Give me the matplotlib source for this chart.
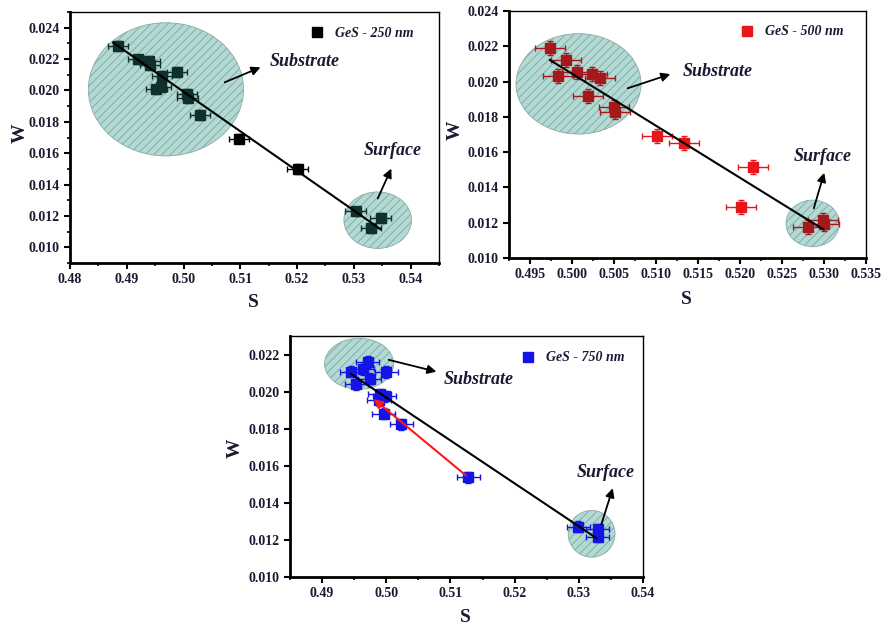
import matplotlib.pyplot as plt
import numpy as np
from matplotlib.lines import Line2D
from matplotlib.patches import Ellipse
from matplotlib.ticker import MultipleLocator

plt.rcParams["font.family"] = ["Liberation Serif", "DejaVu Serif"]
plt.rcParams["hatch.linewidth"] = 0.7

# GeS - 250 nm
s_250 = [0.4885, 0.4920, 0.4940, 0.4941, 0.4988, 0.4962, 0.4952, 0.4960,
         0.5006, 0.5007, 0.5029, 0.5098, 0.5201, 0.5303, 0.5347, 0.5330]
w_250 = [0.02283, 0.02198, 0.02187, 0.02160, 0.02117, 0.02092, 0.02007, 0.02024,
         0.01976, 0.01950, 0.01844, 0.01693, 0.01498, 0.01229, 0.01188, 0.01120]
line_250 = ([0.4876, 0.5347], [0.02305, 0.01116])

# GeS - 500 nm
s_500 = [0.49738, 0.49929, 0.49837, 0.50056, 0.50234, 0.50333, 0.50194, 0.50500,
         0.50512, 0.51016, 0.51333, 0.52159, 0.52008, 0.52813, 0.52992, 0.53004]
w_500 = [0.02189, 0.02122, 0.02032, 0.02056, 0.02043, 0.02019, 0.01918, 0.01854,
         0.01829, 0.01691, 0.01653, 0.01518, 0.01291, 0.01178, 0.01215, 0.01193]
line_500 = ([0.49738, 0.52992], [0.02122, 0.01162])

# GeS - 750 nm
s_750 = [0.49455, 0.49533, 0.49714, 0.49636, 0.49741, 0.50001, 0.49897, 0.49975,
         0.49886, 0.49959, 0.50235, 0.51275, 0.52991, 0.53293, 0.53293]
w_750 = [0.02108, 0.02040, 0.02160, 0.02121, 0.02070, 0.02106, 0.01985, 0.01976,
         0.01955, 0.01881, 0.01823, 0.01538, 0.01272, 0.01258, 0.01218]
line_750 = ([0.49455, 0.53278], [0.02094, 0.01209])
red_arrow_750 = ((0.51275, 0.01538), (0.49772, 0.01969))

TICK_COLOR = "#1a1a33"


def inside_any(s, w, ellipses):
    s = np.asarray(s)
    w = np.asarray(w)
    mask = np.zeros(len(s), dtype=bool)
    for (cx, cy, ew, eh) in ellipses:
        mask |= ((s - cx) / (ew / 2)) ** 2 + ((w - cy) / (eh / 2)) ** 2 <= 1.05
    return mask


def draw_panel(ax, s, w, line, color, dark, label, serr, werr, xlim, ylim, xmaj,
               ymaj, ellipses, sub_arrow, sub_text, surf_arrow, surf_text, leg_pos,
               yminor=True):
    s = np.asarray(s)
    w = np.asarray(w)
    inside = inside_any(s, w, ellipses) if dark else np.zeros(len(s), dtype=bool)
    ax.errorbar(s[~inside], w[~inside], xerr=serr, yerr=werr, fmt="s", color=color,
                ms=7, elinewidth=1.0, capsize=2.5, capthick=1.0, zorder=3)
    if inside.any():
        ax.errorbar(s[inside], w[inside], xerr=serr, yerr=werr, fmt="s", color=dark,
                    ms=7, elinewidth=1.0, capsize=2.5, capthick=1.0, zorder=3)
    ax.plot(line[0], line[1], color="black", lw=1.5, zorder=4)
    for (cx, cy, ew, eh) in ellipses:
        e = Ellipse((cx, cy), ew, eh, facecolor="#b2dad5", edgecolor="#8aa9a5",
                    hatch="////", lw=0.6, zorder=1)
        ax.add_patch(e)
    ax.annotate("", xy=sub_arrow[1], xytext=sub_arrow[0],
                arrowprops=dict(arrowstyle="-|>", color="black", lw=1.3,
                                mutation_scale=13), zorder=6)
    ax.annotate("", xy=surf_arrow[1], xytext=surf_arrow[0],
                arrowprops=dict(arrowstyle="-|>", color="black", lw=1.3,
                                mutation_scale=13), zorder=6)
    ax.text(sub_text[0], sub_text[1], "Substrate", fontsize=13, fontweight="bold",
            style="italic", color=TICK_COLOR, ha="left", va="center", zorder=7)
    ax.text(surf_text[0], surf_text[1], "Surface", fontsize=13, fontweight="bold",
            style="italic", color=TICK_COLOR, ha="left", va="center", zorder=7)

    handle = Line2D([], [], ls="none", marker="s", ms=7, color=color)
    ax.legend([handle], [label], loc="center left", bbox_to_anchor=leg_pos,
              frameon=False, handlelength=0.8, handletextpad=0.9, borderpad=0,
              borderaxespad=0, prop=dict(family="Liberation Serif", weight="bold",
                                         style="italic", size=10),
              labelcolor=TICK_COLOR)

    ax.set_xlim(*xlim)
    ax.set_ylim(*ylim)
    ax.xaxis.set_major_locator(MultipleLocator(xmaj))
    ax.xaxis.set_minor_locator(MultipleLocator(xmaj / 2))
    ax.yaxis.set_major_locator(MultipleLocator(ymaj))
    if yminor:
        ax.yaxis.set_minor_locator(MultipleLocator(ymaj / 2))
    else:
        ax.yaxis.set_minor_locator(plt.NullLocator())
    ax.tick_params(which="major", direction="out", length=4, width=1.5,
                   labelsize=10, labelcolor=TICK_COLOR)
    ax.tick_params(which="minor", direction="out", length=2.5, width=1.2)
    ax.spines["left"].set_linewidth(2)
    ax.spines["bottom"].set_linewidth(2)
    ax.spines["top"].set_linewidth(1)
    ax.spines["right"].set_linewidth(1)


def set_ticks(ax, xt, xfmt, yt):
    ax.set_xticks(xt)
    ax.set_xticklabels([xfmt.format(v) for v in xt], fontweight="bold")
    ax.set_yticks(yt)
    ax.set_yticklabels(["{:.3f}".format(v) for v in yt], fontweight="bold")


def main():
    fig = plt.figure(figsize=(8.88, 6.28), dpi=100)

    ax1 = fig.add_axes([70 / 888, 1 - 263 / 628, 369 / 888, 251 / 628])
    draw_panel(ax1, s_250, w_250, line_250, "black", "#10302b", "GeS - 250 nm",
               0.0018, 0.0003, (0.48, 0.545), (0.009, 0.025), 0.01, 0.002,
               [(0.4969, 0.02007, 0.02733, 0.00849), (0.5342, 0.01173, 0.0119, 0.0036)],
               ((0.5068, 0.02045), (0.5140, 0.02154)), (0.5152, 0.02186),
               ((0.5340, 0.01295), (0.5368, 0.01518)), (0.5317, 0.01619),
               (0.655, 0.916))
    set_ticks(ax1, [0.48, 0.49, 0.50, 0.51, 0.52, 0.53, 0.54], "{:.2f}",
              [0.010, 0.012, 0.014, 0.016, 0.018, 0.020, 0.022, 0.024])

    ax2 = fig.add_axes([509 / 888, 1 - 258 / 628, 357 / 888, 247 / 628])
    draw_panel(ax2, s_500, w_500, line_500, "#e8161b", "#a5191c", "GeS - 500 nm",
               0.0018, 0.0004, (0.4925, 0.535), (0.010, 0.024), 0.005, 0.002,
               [(0.50077, 0.01987, 0.01488, 0.00569),
                (0.52865, 0.01196, 0.00635, 0.00264)],
               ((0.50631, 0.01957), (0.51202, 0.02047)), (0.51321, 0.02058),
               ((0.52869, 0.01266), (0.53012, 0.01498)), (0.52643, 0.01577),
               (0.652, 0.915), yminor=False)
    set_ticks(ax2, [0.495, 0.500, 0.505, 0.510, 0.515, 0.520, 0.525, 0.530, 0.535],
              "{:.3f}", [0.010, 0.012, 0.014, 0.016, 0.018, 0.020, 0.022, 0.024])

    ax3 = fig.add_axes([290 / 888, 1 - 577 / 628, 353 / 888, 241 / 628])
    draw_panel(ax3, s_750, w_750, line_750, "#1414e6", None, "GeS - 750 nm",
               0.0018, 0.0003, (0.485, 0.540), (0.010, 0.023), 0.01, 0.002,
               [(0.49577, 0.0215, 0.01077, 0.00275),
                (0.53199, 0.01233, 0.00729, 0.00252)],
               ((0.49996, 0.02175), (0.50823, 0.02104)), (0.50901, 0.02067),
               ((0.53339, 0.01271), (0.53542, 0.01493)), (0.52972, 0.01563),
               (0.658, 0.909), yminor=False)
    ax3.annotate("", xy=red_arrow_750[1], xytext=red_arrow_750[0],
                 arrowprops=dict(arrowstyle="-|>", color="#ff1a1a", lw=1.5,
                                 mutation_scale=13), zorder=4)
    set_ticks(ax3, [0.49, 0.50, 0.51, 0.52, 0.53, 0.54], "{:.2f}",
              [0.010, 0.012, 0.014, 0.016, 0.018, 0.020, 0.022])

    for ax, sx, sy, wx, wy in [(ax1, 0.496, -0.159, -0.1355, 0.518),
                               (ax2, 0.498, -0.170, -0.151, 0.518),
                               (ax3, 0.496, -0.166, -0.156, 0.535)]:
        ax.set_xlabel("S", fontsize=14, fontweight="bold", color=TICK_COLOR)
        ax.set_ylabel("W", fontsize=14, fontweight="bold", color=TICK_COLOR)
        ax.xaxis.set_label_coords(sx, sy)
        ax.yaxis.set_label_coords(wx, wy)
        ax.xaxis.label.set_va("center")
        ax.yaxis.label.set_va("center")

    fig.savefig("out.png", dpi=100)


if __name__ == "__main__":
    main()
